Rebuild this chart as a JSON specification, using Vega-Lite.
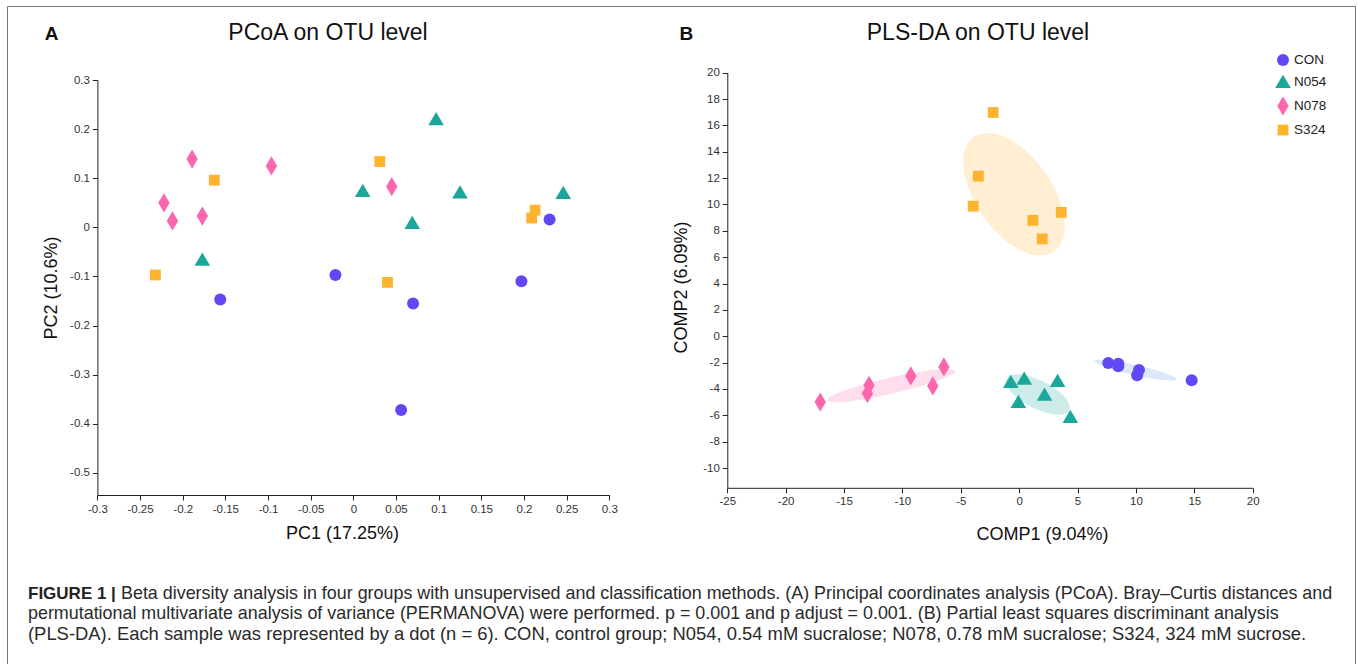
{
  "$schema": "https://vega.github.io/schema/vega-lite/v6.json",
  "width": 1348,
  "height": 660,
  "autosize": {"type": "none"},
  "padding": {"left": 7, "top": 6, "right": 2, "bottom": -2},
  "background": "white",
  "config": {
    "view": {"stroke": "#777", "strokeWidth": 1},
    "font": "Liberation Sans",
    "locale": {"number": {"decimal": ".", "thousands": ",", "grouping": [3], "currency": ["$", ""], "minus": "-"}}
  },
  "datasets": {
    "pcoa": [
      {"group": "CON", "x": -0.021, "y": -0.097},
      {"group": "CON", "x": -0.156, "y": -0.147},
      {"group": "CON", "x": 0.070, "y": -0.155},
      {"group": "CON", "x": 0.056, "y": -0.372},
      {"group": "CON", "x": 0.197, "y": -0.110},
      {"group": "CON", "x": 0.230, "y": 0.016},
      {"group": "N054", "x": -0.177, "y": -0.066},
      {"group": "N054", "x": 0.011, "y": 0.074},
      {"group": "N054", "x": 0.097, "y": 0.220},
      {"group": "N054", "x": 0.125, "y": 0.071},
      {"group": "N054", "x": 0.246, "y": 0.070},
      {"group": "N054", "x": 0.069, "y": 0.009},
      {"group": "N078", "x": -0.189, "y": 0.139},
      {"group": "N078", "x": -0.096, "y": 0.125},
      {"group": "N078", "x": -0.222, "y": 0.050},
      {"group": "N078", "x": -0.212, "y": 0.013},
      {"group": "N078", "x": -0.177, "y": 0.023},
      {"group": "N078", "x": 0.045, "y": 0.083},
      {"group": "S324", "x": -0.163, "y": 0.096},
      {"group": "S324", "x": -0.232, "y": -0.097},
      {"group": "S324", "x": 0.031, "y": 0.134},
      {"group": "S324", "x": 0.213, "y": 0.035},
      {"group": "S324", "x": 0.209, "y": 0.019},
      {"group": "S324", "x": 0.040, "y": -0.112}
    ],
    "plsda": [
      {"group": "CON", "x": 7.63, "y": -2.03},
      {"group": "CON", "x": 8.49, "y": -2.08},
      {"group": "CON", "x": 8.49, "y": -2.28},
      {"group": "CON", "x": 10.26, "y": -2.56},
      {"group": "CON", "x": 10.10, "y": -2.96},
      {"group": "CON", "x": 14.77, "y": -3.34},
      {"group": "N054", "x": -0.72, "y": -3.47},
      {"group": "N054", "x": 0.43, "y": -3.22},
      {"group": "N054", "x": -0.07, "y": -4.99},
      {"group": "N054", "x": 2.17, "y": -4.43},
      {"group": "N054", "x": 3.29, "y": -3.39},
      {"group": "N054", "x": 4.38, "y": -6.13},
      {"group": "N078", "x": -17.04, "y": -4.99},
      {"group": "N078", "x": -12.86, "y": -3.72},
      {"group": "N078", "x": -13.0, "y": -4.35},
      {"group": "N078", "x": -9.28, "y": -3.01},
      {"group": "N078", "x": -7.40, "y": -3.77},
      {"group": "N078", "x": -6.45, "y": -2.33},
      {"group": "S324", "x": -2.23, "y": 16.98},
      {"group": "S324", "x": -3.5, "y": 12.15},
      {"group": "S324", "x": -3.94, "y": 9.87},
      {"group": "S324", "x": 1.17, "y": 8.8},
      {"group": "S324", "x": 1.97, "y": 7.39},
      {"group": "S324", "x": 3.6, "y": 9.4}
    ],
    "ellipses": [
      {"group": "CON", "i": 0, "x": 13.49, "y": -3.28},
      {"group": "CON", "i": 1, "x": 12.96, "y": -3.37},
      {"group": "CON", "i": 2, "x": 11.64, "y": -3.25},
      {"group": "CON", "i": 3, "x": 9.85, "y": -2.95},
      {"group": "CON", "i": 4, "x": 8.10, "y": -2.54},
      {"group": "CON", "i": 5, "x": 6.84, "y": -2.15},
      {"group": "CON", "i": 6, "x": 6.41, "y": -1.87},
      {"group": "CON", "i": 7, "x": 6.93, "y": -1.78},
      {"group": "CON", "i": 8, "x": 8.26, "y": -1.90},
      {"group": "CON", "i": 9, "x": 10.04, "y": -2.20},
      {"group": "CON", "i": 10, "x": 11.80, "y": -2.60},
      {"group": "CON", "i": 11, "x": 13.06, "y": -3.00},
      {"group": "N054", "i": 0, "x": 4.28, "y": -5.63},
      {"group": "N054", "i": 1, "x": 3.64, "y": -5.94},
      {"group": "N054", "i": 2, "x": 2.47, "y": -5.85},
      {"group": "N054", "i": 3, "x": 1.05, "y": -5.37},
      {"group": "N054", "i": 4, "x": -0.21, "y": -4.64},
      {"group": "N054", "i": 5, "x": -0.99, "y": -3.85},
      {"group": "N054", "i": 6, "x": -1.07, "y": -3.21},
      {"group": "N054", "i": 7, "x": -0.44, "y": -2.90},
      {"group": "N054", "i": 8, "x": 0.74, "y": -2.99},
      {"group": "N054", "i": 9, "x": 2.15, "y": -3.47},
      {"group": "N054", "i": 10, "x": 3.41, "y": -4.20},
      {"group": "N054", "i": 11, "x": 4.19, "y": -4.99},
      {"group": "N078", "i": 0, "x": -5.48, "y": -2.63},
      {"group": "N078", "i": 1, "x": -6.14, "y": -3.08},
      {"group": "N078", "i": 2, "x": -8.09, "y": -3.70},
      {"group": "N078", "i": 3, "x": -10.81, "y": -4.34},
      {"group": "N078", "i": 4, "x": -13.57, "y": -4.81},
      {"group": "N078", "i": 5, "x": -15.64, "y": -5.00},
      {"group": "N078", "i": 6, "x": -16.45, "y": -4.86},
      {"group": "N078", "i": 7, "x": -15.79, "y": -4.41},
      {"group": "N078", "i": 8, "x": -13.85, "y": -3.79},
      {"group": "N078", "i": 9, "x": -11.12, "y": -3.15},
      {"group": "N078", "i": 10, "x": -8.36, "y": -2.67},
      {"group": "N078", "i": 11, "x": -6.30, "y": -2.48},
      {"group": "S324", "i": 0, "x": 3.00, "y": 6.43},
      {"group": "S324", "i": 1, "x": 1.20, "y": 6.19},
      {"group": "S324", "i": 2, "x": -1.03, "y": 7.17},
      {"group": "S324", "i": 3, "x": -3.11, "y": 9.13},
      {"group": "S324", "i": 4, "x": -4.47, "y": 11.53},
      {"group": "S324", "i": 5, "x": -4.76, "y": 13.72},
      {"group": "S324", "i": 6, "x": -3.89, "y": 15.13},
      {"group": "S324", "i": 7, "x": -2.09, "y": 15.38},
      {"group": "S324", "i": 8, "x": 0.14, "y": 14.40},
      {"group": "S324", "i": 9, "x": 2.22, "y": 12.44},
      {"group": "S324", "i": 10, "x": 3.58, "y": 10.04},
      {"group": "S324", "i": 11, "x": 3.87, "y": 7.84}
    ],
    "titlesA": [
      {"label": "A", "kind": "letter"},
      {"label": "PCoA on OTU level", "kind": "title"}
    ],
    "titlesB": [
      {"label": "B", "kind": "letter"},
      {"label": "PLS-DA on OTU level", "kind": "title"}
    ],
    "caption": [
      {"line": 1, "part": "head", "text": "FIGURE 1 |"},
      {"line": 1, "part": "first", "text": "Beta diversity analysis in four groups with unsupervised and classification methods. (A) Principal coordinates analysis (PCoA). Bray–Curtis distances and"},
      {"line": 2, "part": "body", "text": "permutational multivariate analysis of variance (PERMANOVA) were performed. p = 0.001 and p adjust = 0.001. (B) Partial least squares discriminant analysis"},
      {"line": 3, "part": "last", "text": "(PLS-DA). Each sample was represented by a dot (n = 6). CON, control group; N054, 0.54 mM sucralose; N078, 0.78 mM sucralose; S324, 324 mM sucrose."}
    ]
  },
  "resolve": {
    "scale": {"x": "independent", "y": "independent"},
    "axis": {"x": "independent", "y": "independent"}
  },
  "layer": [
    {
      "layer": [
        {
          "data": {"name": "pcoa"},
          "mark": {"type": "point", "filled": true, "size": 144, "opacity": 1},
          "encoding": {
            "x": {
              "field": "x", "type": "quantitative",
              "scale": {"domain": [-0.3, 0.3], "range": [90.4, 602.3], "nice": false, "zero": false},
              "axis": {"orient": "bottom", "offset": -171, "values": [-0.3, -0.25, -0.2, -0.15, -0.1, -0.05, 0, 0.05, 0.1, 0.15, 0.2, 0.25, 0.3], "format": ".2~f", "title": "PC1 (17.25%)", "titleX": 335, "grid": false, "domainColor": "#222", "tickColor": "#222", "tickSize": 5, "labelFontSize": 11.5, "labelColor": "#333", "labelPadding": 3, "labelFlush": false, "labelOverlap": false, "titleFontSize": 18, "titleFontWeight": "normal", "titleColor": "#111", "titlePadding": 10}
            },
            "y": {
              "field": "y", "type": "quantitative",
              "scale": {"domain": [-0.545, 0.3], "range": [489, 74], "nice": false, "zero": false},
              "axis": {"orient": "left", "offset": -90.4, "values": [-0.5, -0.4, -0.3, -0.2, -0.1, 0, 0.1, 0.2, 0.3], "format": ".1~f", "title": "PC2 (10.6%)", "grid": false, "domainColor": "#222", "tickColor": "#222", "tickSize": 5, "labelFontSize": 11.5, "labelColor": "#333", "labelPadding": 3, "labelFlush": false, "labelOverlap": false, "titleFontSize": 18, "titleFontWeight": "normal", "titleColor": "#111", "titlePadding": 9}
            },
            "color": {
              "field": "group", "type": "nominal",
              "scale": {"domain": ["CON", "N054", "N078", "S324"], "range": ["#6148F5", "#1BA89A", "#FB67AF", "#FEB32E"]},
              "legend": {"orient": "none", "legendX": 1269, "legendY": 47, "title": null, "symbolSize": 144, "labelFontSize": 13.5, "labelColor": "#222", "rowPadding": 7, "labelOffset": 4,
                "encode": {"symbols": {"update": {"fill": {"signal": "datum.value === 'CON' ? '#6495ED' : datum.value === 'S324' ? '#FFA60F' : scale('color', datum.value)"}}}}}
            },
            "shape": {
              "field": "group", "type": "nominal",
              "scale": {"domain": ["CON", "N054", "N078", "S324"], "range": ["circle", "M0,-1.2L1.3,1L-1.3,1Z", "M0,-1.6L0.95,0L0,1.6L-0.95,0Z", "M-0.9,-0.9L0.9,-0.9L0.9,0.9L-0.9,0.9Z"]},
              "legend": {"orient": "none", "legendX": 1269, "legendY": 47, "title": null, "symbolSize": 144, "labelFontSize": 13.5, "labelColor": "#222", "rowPadding": 7, "labelOffset": 4,
                "encode": {"symbols": {"update": {"fill": {"signal": "datum.value === 'CON' ? '#6495ED' : datum.value === 'S324' ? '#FFA60F' : scale('color', datum.value)"}}}}}
            }
          }
        },
        {
          "mark": {"type": "rect", "fill": "transparent", "stroke": "#222", "strokeWidth": 1},
          "encoding": {"x": {"datum": -0.3}, "x2": {"datum": 0.3}, "y": {"datum": -0.545}, "y2": {"datum": 0.3}}
        },
        {
          "mark": {"type": "rule", "color": "#555", "strokeWidth": 1.6, "strokeDash": [2.5, 2.5]},
          "encoding": {"x": {"datum": 0}, "y": {"datum": -0.545}, "y2": {"datum": 0.3}}
        },
        {
          "mark": {"type": "rule", "color": "#555", "strokeWidth": 1.6, "strokeDash": [2.5, 2.5]},
          "encoding": {"y": {"datum": 0}, "x": {"datum": -0.3}, "x2": {"datum": 0.3}}
        },
        {
          "data": {"name": "titlesA"},
          "transform": [{"filter": "datum.kind == 'letter'"}],
          "mark": {"type": "text", "fontWeight": "bold", "fontSize": 19, "align": "center", "baseline": "alphabetic", "color": "#111"},
          "encoding": {"x": {"datum": -0.3536}, "y": {"datum": 0.3815}, "text": {"field": "label"}}
        },
        {
          "data": {"name": "titlesA"},
          "transform": [{"filter": "datum.kind == 'title'"}],
          "mark": {"type": "text", "fontSize": 23, "align": "center", "baseline": "alphabetic", "color": "#111"},
          "encoding": {"x": {"datum": -0.0297}, "y": {"datum": 0.3815}, "text": {"field": "label"}}
        }
      ]
    },
    {
      "layer": [
        {
          "data": {"name": "ellipses"},
          "mark": {"type": "line", "interpolate": "cardinal-closed", "strokeOpacity": 0, "fillOpacity": 0.22},
          "encoding": {
            "x": {"field": "x", "type": "quantitative"},
            "y": {"field": "y", "type": "quantitative"},
            "order": {"field": "i", "type": "quantitative"},
            "detail": {"field": "group"},
            "fill": {"field": "group", "type": "nominal", "scale": {"domain": ["CON", "N054", "N078", "S324"], "range": ["#6495ED", "#1BA89A", "#FB67AF", "#FEB32E"]}, "legend": null}
          }
        },
        {
          "data": {"name": "plsda"},
          "mark": {"type": "point", "filled": true, "size": 144, "opacity": 1},
          "encoding": {
            "x": {
              "field": "x", "type": "quantitative",
              "scale": {"domain": [-25, 20], "range": [720.3, 1245.7], "nice": false, "zero": false},
              "axis": {"orient": "bottom", "offset": -178.2, "values": [-25, -20, -15, -10, -5, 0, 5, 10, 15, 20], "title": "COMP1 (9.04%)", "titleX": 1035, "grid": false, "domainColor": "#222", "tickColor": "#222", "tickSize": 5, "labelFontSize": 11.5, "labelColor": "#333", "labelPadding": 3, "labelFlush": false, "labelOverlap": false, "titleFontSize": 18, "titleFontWeight": "normal", "titleColor": "#111", "titlePadding": 18}
            },
            "y": {
              "field": "y", "type": "quantitative",
              "scale": {"domain": [-11.5, 20], "range": [481.8, 66.7], "nice": false, "zero": false},
              "axis": {"orient": "left", "offset": -720.3, "values": [-10, -8, -6, -4, -2, 0, 2, 4, 6, 8, 10, 12, 14, 16, 18, 20], "title": "COMP2 (6.09%)", "titleY": 281, "grid": false, "domainColor": "#222", "tickColor": "#222", "tickSize": 5, "labelFontSize": 11.5, "labelColor": "#333", "labelPadding": 3, "labelFlush": false, "labelOverlap": false, "titleFontSize": 18, "titleFontWeight": "normal", "titleColor": "#111", "titlePadding": 12}
            },
            "color": {"field": "group", "type": "nominal"},
            "shape": {"field": "group", "type": "nominal"}
          }
        },
        {
          "mark": {"type": "rect", "fill": "transparent", "stroke": "#222", "strokeWidth": 1},
          "encoding": {"x": {"datum": -25}, "x2": {"datum": 20}, "y": {"datum": -11.5}, "y2": {"datum": 20}}
        },
        {
          "mark": {"type": "rule", "color": "#555", "strokeWidth": 1.6, "strokeDash": [2.5, 2.5]},
          "encoding": {"x": {"datum": 0}, "y": {"datum": -11.5}, "y2": {"datum": 20}}
        },
        {
          "mark": {"type": "rule", "color": "#555", "strokeWidth": 1.6, "strokeDash": [2.5, 2.5]},
          "encoding": {"y": {"datum": 0}, "x": {"datum": -25}, "x2": {"datum": 20}}
        },
        {
          "data": {"name": "titlesB"},
          "transform": [{"filter": "datum.kind == 'letter'"}],
          "mark": {"type": "text", "fontWeight": "bold", "fontSize": 19, "align": "center", "baseline": "alphabetic", "color": "#111"},
          "encoding": {"x": {"datum": -28.51}, "y": {"datum": 22.48}, "text": {"field": "label"}}
        },
        {
          "data": {"name": "titlesB"},
          "transform": [{"filter": "datum.kind == 'title'"}],
          "mark": {"type": "text", "fontSize": 23, "align": "center", "baseline": "alphabetic", "color": "#111"},
          "encoding": {"x": {"datum": -3.53}, "y": {"datum": 22.48}, "text": {"field": "label"}}
        }
      ]
    },
    {
      "data": {"name": "caption"},
      "layer": [
        {
          "transform": [{"filter": "datum.part == 'head'"}],
          "mark": {"type": "text", "fontWeight": "bold", "fontSize": 17, "align": "left", "baseline": "alphabetic", "color": "#222"},
          "encoding": {
            "x": {"datum": 0, "scale": {"domain": [0, 1], "range": [21, 1329]}, "axis": null},
            "y": {"field": "line", "type": "quantitative", "scale": {"domain": [1, 3], "range": [592.5, 633.5]}, "axis": null},
            "text": {"field": "text"}
          }
        },
        {
          "transform": [{"filter": "datum.part == 'first'"}],
          "mark": {"type": "text", "fontSize": 17.9, "align": "left", "baseline": "alphabetic", "color": "#2a2a2a", "dx": 93},
          "encoding": {
            "x": {"datum": 0},
            "y": {"field": "line", "type": "quantitative"},
            "text": {"field": "text"}
          }
        },
        {
          "transform": [{"filter": "datum.part == 'body'"}],
          "mark": {"type": "text", "fontSize": 17.9, "align": "left", "baseline": "alphabetic", "color": "#2a2a2a"},
          "encoding": {
            "x": {"datum": 0},
            "y": {"field": "line", "type": "quantitative"},
            "text": {"field": "text"}
          }
        },
        {
          "transform": [{"filter": "datum.part == 'last'"}],
          "mark": {"type": "text", "fontSize": 18.4, "align": "left", "baseline": "alphabetic", "color": "#2a2a2a"},
          "encoding": {
            "x": {"datum": 0},
            "y": {"field": "line", "type": "quantitative"},
            "text": {"field": "text"}
          }
        }
      ]
    }
  ]
}
